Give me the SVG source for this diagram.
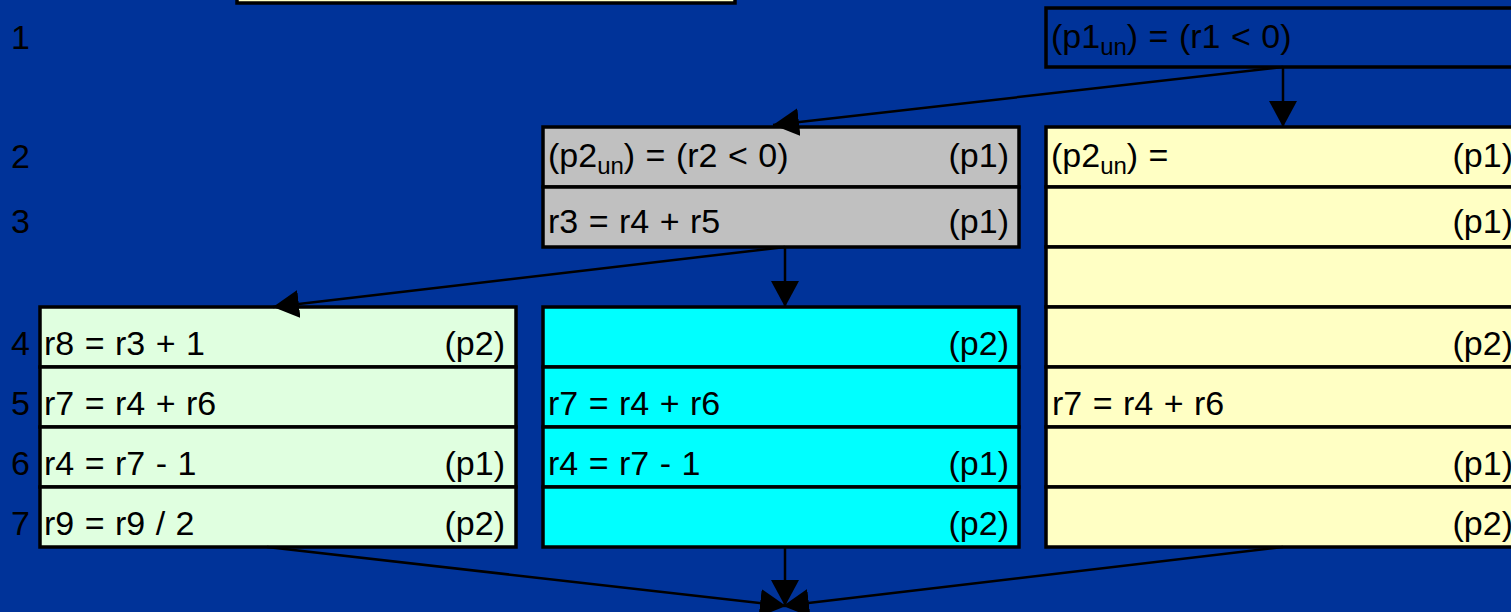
<svg xmlns="http://www.w3.org/2000/svg" width="1511" height="612" viewBox="0 0 1511 612">
<style>
.t{font-family:"Liberation Sans",Arial,sans-serif;font-size:34px;fill:#000;word-spacing:1px}
.e{text-anchor:end}
.s{font-size:24px}
.c{stroke:#000;stroke-width:3.5}
.g{fill:#C0C0C0}
.l{fill:#E0FFE0}
.y{fill:#FFFFC4}
.cy{fill:#00FFFF}
.k{stroke:#000;stroke-width:2.5;fill:none}
</style>
<defs>
<marker id="ah" viewBox="0 0 26 28" refX="26" refY="14" markerWidth="26" markerHeight="28" markerUnits="userSpaceOnUse" orient="auto">
<path d="M0,0 L26,14 L0,28 Z" fill="#000"/>
</marker>
</defs>
<rect x="0" y="0" width="1511" height="612" fill="#003399"/>

<g id="line-numbers" class="t">
<text x="11" y="49">1</text>
<text x="11" y="168">2</text>
<text x="11" y="233">3</text>
<text x="11" y="355">4</text>
<text x="11" y="415">5</text>
<text x="11" y="475">6</text>
<text x="11" y="535">7</text>
</g>

<g id="top-left-block">
<rect x="237" y="-60" width="498" height="63" class="y c"/>
</g>

<g id="block-top-right">
<rect x="1046" y="8" width="480" height="59" fill="#003399" class="c"/>
<text class="t" x="1051" y="48">(p1<tspan class="s" dy="7">un</tspan><tspan dy="-7">) = (r1 &lt; 0)</tspan></text>
</g>

<g id="block-gray">
<rect x="543" y="127" width="476" height="60" class="g c"/>
<rect x="543" y="187" width="476" height="60" class="g c"/>
<text class="t" x="548" y="167">(p2<tspan class="s" dy="7">un</tspan><tspan dy="-7">) = (r2 &lt; 0)</tspan></text>
<text class="t e" x="1009" y="167">(p1)</text>
<text class="t" x="548" y="233">r3 = r4 + r5</text>
<text class="t e" x="1009" y="233">(p1)</text>
</g>

<g id="block-yellow">
<rect x="1046" y="127" width="480" height="60" class="y c"/>
<rect x="1046" y="187" width="480" height="60" class="y c"/>
<rect x="1046" y="247" width="480" height="60" class="y c"/>
<rect x="1046" y="307" width="480" height="60" class="y c"/>
<rect x="1046" y="367" width="480" height="60" class="y c"/>
<rect x="1046" y="427" width="480" height="60" class="y c"/>
<rect x="1046" y="487" width="480" height="60" class="y c"/>
<text class="t" x="1051" y="167">(p2<tspan class="s" dy="7">un</tspan><tspan dy="-7">) =</tspan></text>
<text class="t e" x="1513" y="167">(p1)</text>
<text class="t e" x="1513" y="233">(p1)</text>
<text class="t e" x="1513" y="355">(p2)</text>
<text class="t" x="1052" y="415">r7 = r4 + r6</text>
<text class="t e" x="1513" y="475">(p1)</text>
<text class="t e" x="1513" y="535">(p2)</text>
</g>

<g id="block-green">
<rect x="40" y="307" width="476" height="60" class="l c"/>
<rect x="40" y="367" width="476" height="60" class="l c"/>
<rect x="40" y="427" width="476" height="60" class="l c"/>
<rect x="40" y="487" width="476" height="60" class="l c"/>
<text class="t" x="44" y="355">r8 = r3 + 1</text>
<text class="t e" x="505" y="355">(p2)</text>
<text class="t" x="44" y="415">r7 = r4 + r6</text>
<text class="t" x="44" y="475">r4 = r7 - 1</text>
<text class="t e" x="505" y="475">(p1)</text>
<text class="t" x="44" y="535">r9 = r9 / 2</text>
<text class="t e" x="505" y="535">(p2)</text>
</g>

<g id="block-cyan">
<rect x="543" y="307" width="476" height="60" class="cy c"/>
<rect x="543" y="367" width="476" height="60" class="cy c"/>
<rect x="543" y="427" width="476" height="60" class="cy c"/>
<rect x="543" y="487" width="476" height="60" class="cy c"/>
<text class="t e" x="1009" y="355">(p2)</text>
<text class="t" x="548" y="415">r7 = r4 + r6</text>
<text class="t" x="548" y="475">r4 = r7 - 1</text>
<text class="t e" x="1009" y="475">(p1)</text>
<text class="t e" x="1009" y="535">(p2)</text>
</g>

<g id="connectors" class="k">
<line x1="1283" y1="67" x2="1283" y2="127" marker-end="url(#ah)"/>
<line x1="1283" y1="67" x2="773" y2="125" marker-end="url(#ah)"/>
<line x1="785" y1="247" x2="785" y2="307" marker-end="url(#ah)"/>
<line x1="785" y1="247" x2="273" y2="307" marker-end="url(#ah)"/>
<line x1="267" y1="547" x2="786" y2="606" marker-end="url(#ah)"/>
<line x1="785" y1="547" x2="785" y2="606" marker-end="url(#ah)"/>
<line x1="1283" y1="547" x2="783" y2="606" marker-end="url(#ah)"/>
</g>
</svg>
